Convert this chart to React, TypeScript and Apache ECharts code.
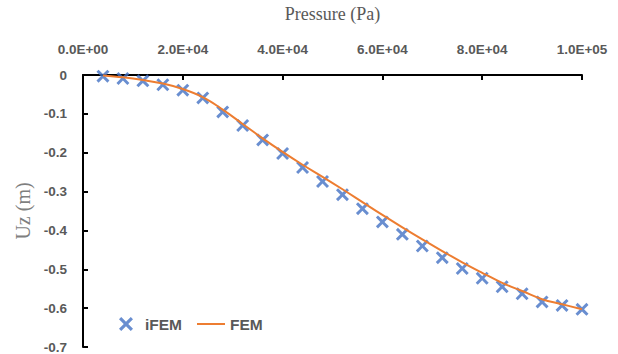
import React, { useEffect, useRef } from "react";
import * as echarts from "echarts";

const pressures = [
  4000, 8000, 12000, 16000, 20000, 24000, 28000, 32000, 36000, 40000, 44000, 48000, 52000,
  56000, 60000, 64000, 68000, 72000, 76000, 80000, 84000, 88000, 92000, 96000, 100000,
];
const ifemUz = [
  -0.003, -0.009, -0.015, -0.025, -0.039, -0.059, -0.095, -0.13, -0.167, -0.202, -0.238, -0.274,
  -0.308, -0.344, -0.378, -0.41, -0.44, -0.47, -0.498, -0.523, -0.545, -0.563, -0.584, -0.593,
  -0.603,
];
const femUz = [
  -0.001, -0.006, -0.013, -0.022, -0.036, -0.057, -0.089, -0.126, -0.163, -0.198, -0.231, -0.262,
  -0.294, -0.327, -0.36, -0.392, -0.423, -0.453, -0.482, -0.509, -0.535, -0.556, -0.577, -0.59,
  -0.603,
];
const seriesNames = ["iFEM", "FEM"];

const xSymbol =
  "path://M0,1.6 L1.6,0 L5,3.4 L8.4,0 L10,1.6 L6.6,5 L10,8.4 L8.4,10 L5,6.6 L1.6,10 L0,8.4 L3.4,5 Z";

function sci(v: number): string {
  if (v === 0) return "0.0E+00";
  const e = Math.floor(Math.log10(Math.abs(v)));
  const m = v / Math.pow(10, e);
  const es = (e < 0 ? "-" : "+") + String(Math.abs(e)).padStart(2, "0");
  return m.toFixed(1) + "E" + es;
}

export default function App() {
  const ref = useRef<HTMLDivElement>(null);
  useEffect(() => {
    if (!ref.current) return;
    const chart = echarts.init(ref.current, null, { renderer: "svg" });
    const labelStyle = {
      color: "#595959",
      fontFamily: "Liberation Sans",
      fontWeight: "bold" as const,
      fontSize: 13.5,
    };
    chart.setOption({
      animation: false,
      backgroundColor: "#ffffff",
      grid: { left: 83, top: 72, width: 499, height: 276 },
      legend: {
        left: 114,
        top: 311,
        itemWidth: 28,
        itemHeight: 14,
        itemGap: 14,
        textStyle: {
          color: "#595959",
          fontFamily: "Liberation Sans",
          fontWeight: "bold",
          fontSize: 15.5,
        },
        data: [seriesNames[0], { name: seriesNames[1], itemStyle: { opacity: 0 } }],
      },
      xAxis: {
        type: "value",
        position: "top",
        min: 0,
        max: 100000,
        interval: 20000,
        name: "Pressure (Pa)",
        nameLocation: "middle",
        nameGap: 52,
        nameTextStyle: { color: "#595959", fontFamily: "Liberation Serif", fontSize: 18 },
        axisLine: { show: true, lineStyle: { color: "#000000", width: 2 } },
        axisTick: { show: true, inside: true, length: 5, lineStyle: { color: "#000000", width: 2 } },
        axisLabel: { ...labelStyle, margin: 19, formatter: (v: number) => sci(v) },
        splitLine: { show: false },
      },
      yAxis: {
        type: "value",
        min: -0.7,
        max: 0,
        interval: 0.1,
        name: "Uz (m)",
        nameLocation: "middle",
        nameRotate: 90,
        nameGap: 49,
        nameTextStyle: { color: "#7f7f7f", fontFamily: "Liberation Serif", fontSize: 20 },
        axisLine: { show: true, onZero: false, lineStyle: { color: "#000000", width: 2 } },
        axisTick: { show: true, inside: true, length: 5, lineStyle: { color: "#000000", width: 2 } },
        axisLabel: {
          ...labelStyle,
          margin: 16,
          formatter: (v: number) => (Math.abs(v) < 1e-9 ? "0" : v.toFixed(1)),
        },
        splitLine: { show: false },
      },
      series: [
        {
          name: seriesNames[0],
          type: "scatter",
          symbol: xSymbol,
          symbolSize: 13,
          itemStyle: { color: "#4472C4" },
          data: pressures.map((p, i) => [p, ifemUz[i]]),
          z: 3,
        },
        {
          name: seriesNames[1],
          type: "line",
          smooth: 0.4,
          symbol: "none",
          lineStyle: { color: "#ED7D31", width: 2 },
          itemStyle: { color: "#ED7D31" },
          data: pressures.map((p, i) => [p, femUz[i]]),
          z: 4,
        },
      ],
    });
    return () => chart.dispose();
  }, []);
  return (
    <div
      ref={ref}
      style={{ position: "fixed", left: 0, top: 0, width: 618, height: 354, background: "#fff" }}
    />
  );
}
